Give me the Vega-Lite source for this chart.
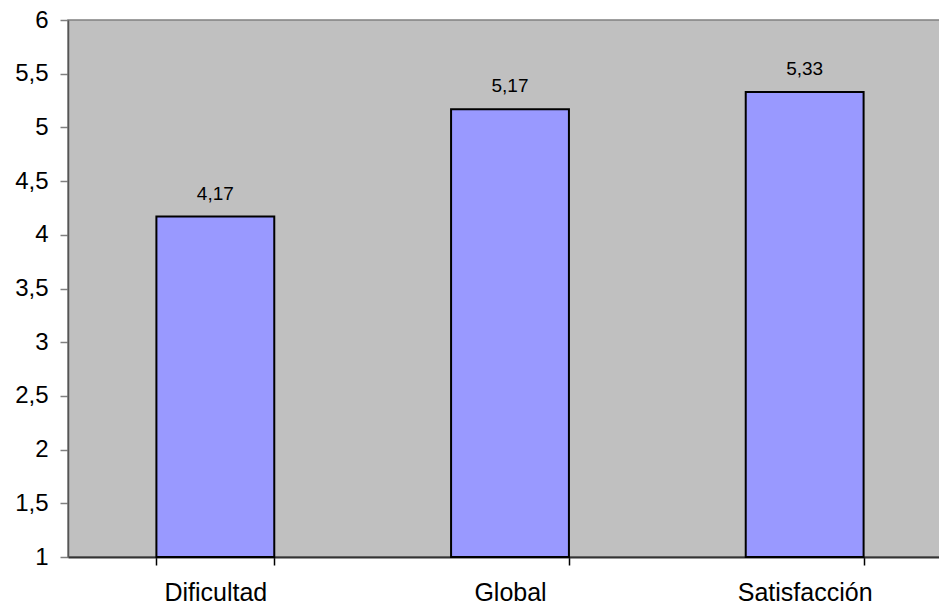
{
  "$schema": "https://vega.github.io/schema/vega-lite/v6.json",
  "autosize": {"type": "none"},
  "padding": {"left": 68, "top": 20, "right": 0, "bottom": 51},
  "width": 884,
  "height": 537,
  "background": "white",
  "config": {
    "view": {"fill": "#C0C0C0", "stroke": "#808080", "strokeWidth": 1.5},
    "font": "Liberation Sans"
  },
  "data": {
    "values": [
      {"category": "Dificultad", "value": 4.17},
      {"category": "Global", "value": 5.17},
      {"category": "Satisfacción", "value": 5.33}
    ]
  },
  "transform": [
    {"calculate": "replace(format(datum.value, '.2f'), '.', ',')", "as": "label"}
  ],
  "encoding": {
    "x": {
      "field": "category",
      "type": "nominal",
      "sort": null,
      "scale": {"paddingInner": 0.6, "paddingOuter": 0.3},
      "axis": {
        "title": null,
        "labelAngle": 0,
        "labelFontSize": 25,
        "labelColor": "#000",
        "labelPadding": 15,
        "tickBand": "extent",
        "tickSize": 8,
        "tickColor": "#000",
        "tickWidth": 1.5,
        "domainColor": "#333",
        "domainWidth": 2
      }
    }
  },
  "layer": [
    {
      "mark": {"type": "bar", "fill": "#9999FF", "stroke": "#000", "strokeWidth": 2},
      "encoding": {
        "y": {
          "field": "value",
          "type": "quantitative",
          "scale": {"domain": [1, 6], "zero": false, "nice": false},
          "axis": {
            "title": null,
            "values": [1, 1.5, 2, 2.5, 3, 3.5, 4, 4.5, 5, 5.5, 6],
            "labelExpr": "replace(format(datum.value, '~g'), '.', ',')",
            "labelFontSize": 24,
            "labelColor": "#000",
            "labelPadding": 12,
            "tickSize": 8,
            "tickColor": "#808080",
            "tickWidth": 1.5,
            "domainColor": "#555",
            "domainWidth": 1.5,
            "grid": false
          }
        },
        "y2": {"datum": 1}
      }
    },
    {
      "mark": {"type": "text", "fontSize": 19, "color": "#000", "baseline": "alphabetic", "dy": -17},
      "encoding": {
        "y": {"field": "value", "type": "quantitative"},
        "text": {"field": "label", "type": "nominal"}
      }
    }
  ]
}
